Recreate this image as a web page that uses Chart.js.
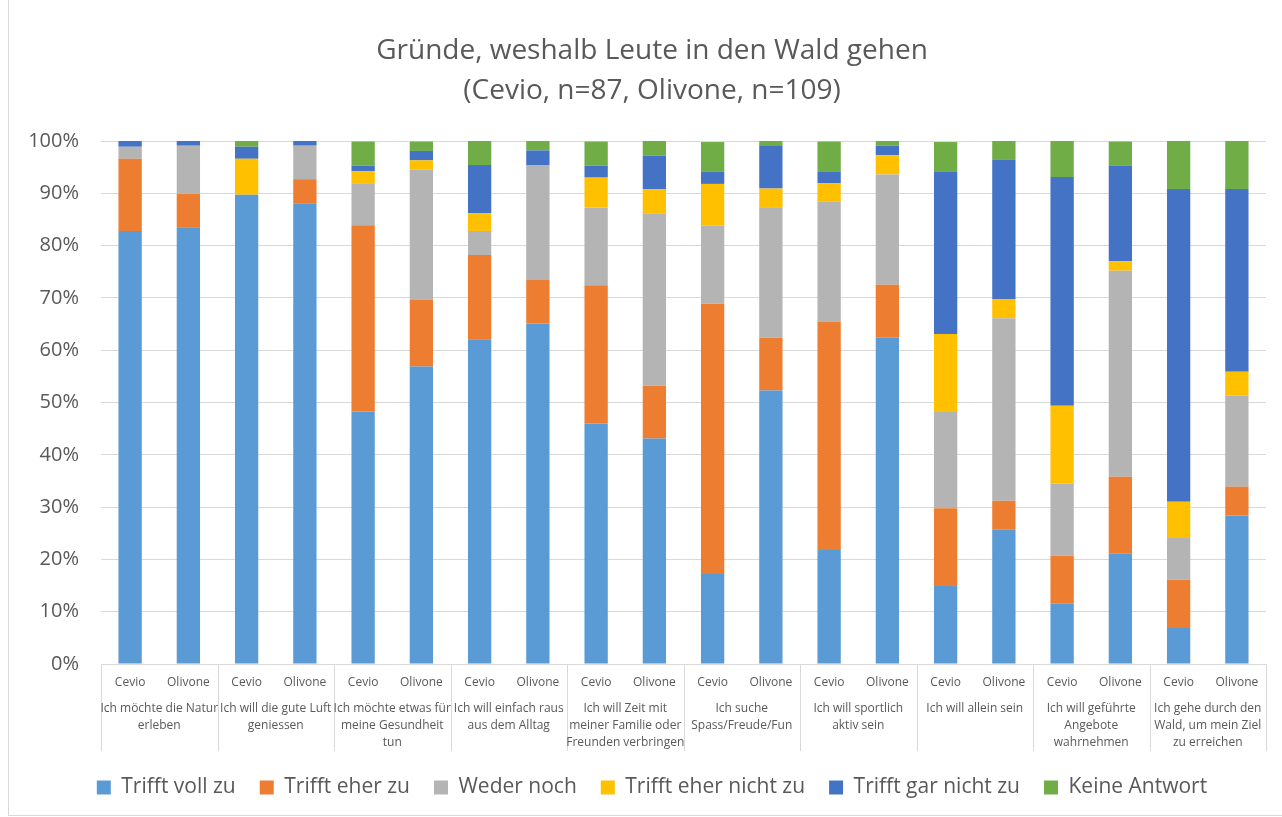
<!DOCTYPE html>
<html>
<head>
<meta charset="utf-8">
<script src="https://cdn.jsdelivr.net/npm/chart.js@4"></script>
<style>
  body { margin: 0; background: #fff; }
  #wrap { position: absolute; left: 8px; top: 0; width: 1274px; height: 816px; border-left: 1px solid #d9d9d9; border-bottom: 1px solid #d9d9d9; box-sizing: border-box; }
  canvas { position: absolute; left: -9px; top: 0; }
</style>
</head>
<body>
<div id="wrap"><canvas id="chart" width="1282" height="817"></canvas></div>
<script>
// --- data (percent of respondents) ---
const groups = [
    ["Ich möchte die Natur", "erleben"],
    ["Ich will die gute Luft", "geniessen"],
    ["Ich möchte etwas für", "meine Gesundheit", "tun"],
    ["Ich will einfach raus", "aus dem Alltag"],
    ["Ich will Zeit mit", "meiner Familie oder", "Freunden verbringen"],
    ["Ich suche", "Spass/Freude/Fun"],
    ["Ich will sportlich", "aktiv sein"],
    ["Ich will allein sein"],
    ["Ich will geführte", "Angebote", "wahrnehmen"],
    ["Ich gehe durch den", "Wald, um mein Ziel", "zu erreichen"]
];
const places = ["Cevio", "Olivone"];

const voll      = [82.8, 83.5, 89.7, 88.1, 48.3, 56.9, 62.1, 65.1, 46.0, 43.1, 17.2, 52.3, 21.8, 62.4, 14.9, 25.7, 11.5, 21.1, 6.9, 28.4];
const eher      = [13.8, 6.4, 0, 4.6, 35.6, 12.8, 16.1, 8.3, 26.4, 10.1, 51.7, 10.1, 43.7, 10.1, 14.9, 5.5, 9.2, 14.7, 9.2, 5.5];
const weder     = [2.3, 9.2, 0, 6.4, 8.0, 24.8, 4.6, 22.0, 14.9, 33.0, 14.9, 24.8, 23.0, 21.1, 18.4, 34.9, 13.8, 39.4, 8.0, 17.4];
const ehernicht = [0, 0, 6.9, 0, 2.3, 1.8, 3.4, 0, 5.7, 4.6, 8.0, 3.7, 3.4, 3.7, 14.9, 3.7, 14.9, 1.8, 6.9, 4.6];
const garnicht  = [1.1, 0.9, 2.3, 0.9, 1.1, 1.8, 9.2, 2.8, 2.3, 6.4, 2.3, 8.3, 2.3, 1.8, 31.0, 26.6, 43.7, 18.3, 59.8, 34.9];
const keine     = [0, 0, 1.1, 0, 4.6, 1.8, 4.6, 1.8, 4.6, 2.8, 5.7, 0.9, 5.7, 0.9, 5.7, 3.7, 6.9, 4.6, 9.2, 9.2];

const seriesNames = ["Trifft voll zu", "Trifft eher zu", "Weder noch", "Trifft eher nicht zu", "Trifft gar nicht zu", "Keine Antwort"];
const seriesColors = ["#5b9bd5", "#ed7d31", "#b4b4b4", "#ffc000", "#4472c4", "#70ad47"];
const seriesData = [voll, eher, weder, ehernicht, garnicht, keine];

const labels = [];
groups.forEach(() => places.forEach(p => labels.push(p)));

const textColor = "#595959";
const gridColor = "#d9d9d9";
const fontFam = "'Open Sans', 'Noto Sans', sans-serif";

// draws the second label row (the question) and the separator lines
const groupLabels = {
    id: "groupLabels",
    afterDraw(chart) {
        const x = chart.scales.x;
        const c = chart.ctx;
        const w = (x.right - x.left) / labels.length;
        c.save();
        c.strokeStyle = gridColor;
        c.lineWidth = 1;
        for (let g = 0; g <= groups.length; g++) {
            const px = Math.round(x.left + g * places.length * w) + 0.5;
            c.beginPath();
            c.moveTo(px, x.top);
            c.lineTo(px, x.top + 87);
            c.stroke();
        }
        c.fillStyle = textColor;
        c.font = "12px " + fontFam;
        c.textAlign = "center";
        c.textBaseline = "middle";
        groups.forEach((lines, g) => {
            const cx = x.left + (g * places.length + places.length / 2) * w;
            lines.forEach((t, i) => c.fillText(t, cx, x.top + 45 + i * 17));
        });
        c.restore();
    }
};

new Chart(document.getElementById("chart"), {
    type: "bar",
    data: {
        labels: labels,
        datasets: seriesData.map((d, i) => ({
            label: seriesNames[i],
            data: d,
            backgroundColor: seriesColors[i],
            borderWidth: 0,
            categoryPercentage: 1,
            barPercentage: 0.4
        }))
    },
    options: {
        responsive: false,
        animation: false,
        layout: { padding: { left: 22, right: 0, top: 20, bottom: 9 } },
        plugins: {
            title: {
                display: true,
                text: ["Gründe, weshalb Leute in den Wald gehen", "(Cevio, n=87, Olivone, n=109)"],
                color: textColor,
                font: { family: fontFam, size: 28, weight: "normal", lineHeight: 40 / 28 },
                padding: { top: 11, bottom: 30 }
            },
            legend: {
                position: "bottom",
                labels: {
                    color: textColor,
                    boxWidth: 14,
                    boxHeight: 14,
                    padding: 24,
                    font: { family: fontFam, size: 21 }
                }
            },
            tooltip: { enabled: false }
        },
        scales: {
            x: {
                stacked: true,
                grid: { display: false },
                border: { display: true, color: gridColor },
                ticks: {
                    color: textColor,
                    font: { family: fontFam, size: 12 },
                    maxRotation: 0,
                    autoSkip: false,
                    padding: 3
                },
                afterFit(scale) { scale.height = 89; }
            },
            y: {
                stacked: true,
                min: 0,
                max: 100,
                grid: { color: gridColor, drawTicks: false },
                border: { display: false },
                ticks: {
                    stepSize: 10,
                    color: textColor,
                    padding: 22,
                    font: { family: fontFam, size: 20 },
                    callback: v => v + "%"
                },
                afterFit(scale) { scale.width = 79; }
            },
            // empty right-hand axis, only keeps the plot off the right edge
            yRight: {
                position: "right",
                display: true,
                grid: { display: false },
                border: { display: false },
                ticks: { display: false },
                afterFit(scale) { scale.width = 16; }
            }
        }
    },
    plugins: [groupLabels]
});
</script>
</body>
</html>
